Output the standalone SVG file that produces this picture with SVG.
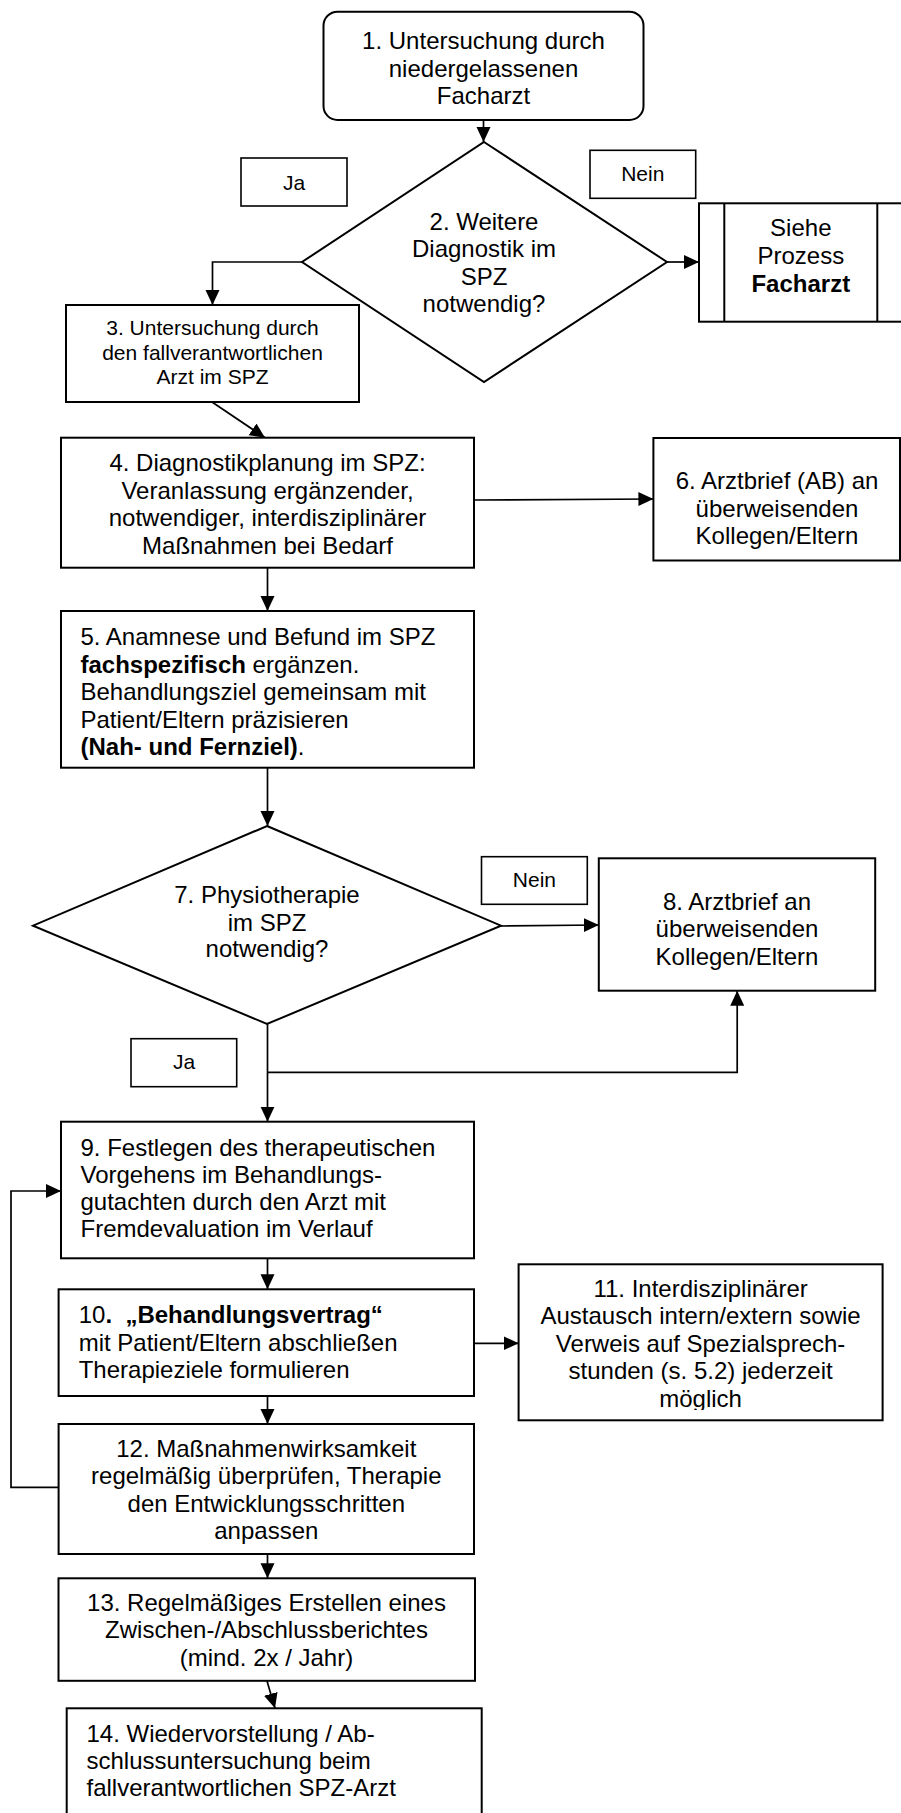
<svg xmlns="http://www.w3.org/2000/svg" width="901" height="1813" viewBox="0 0 901 1813">
<style>
  .box { fill: #ffffff; stroke: #000000; stroke-width: 2; }
  .lbl { fill: #ffffff; stroke: #000000; stroke-width: 1.6; }
  .con { fill: none; stroke: #000000; stroke-width: 1.7; }
  text { font-family: "Liberation Sans", Arial, sans-serif; font-size: 24px; fill: #000000; }
  .c { text-anchor: middle; }
  .s { font-size: 21px; }
  .b { font-weight: bold; }
</style>
<defs>
  <marker id="arr" markerUnits="userSpaceOnUse" markerWidth="16" markerHeight="15" refX="15" refY="7" orient="auto">
    <path d="M0,0 L15,7 L0,14 z" fill="#000000"/>
  </marker>
  <clipPath id="clip11">
    <rect x="519" y="1265" width="363" height="145"/>
  </clipPath>
</defs>
<rect x="0" y="0" width="901" height="1813" fill="#ffffff"/>

<g id="connectors">
  <line class="con" x1="483.5" y1="120" x2="483.5" y2="142" marker-end="url(#arr)"/>
  <path class="con" d="M302,262 H212.5 V305" marker-end="url(#arr)"/>
  <line class="con" x1="667" y1="262" x2="699" y2="262" marker-end="url(#arr)"/>
  <line class="con" x1="212" y1="402" x2="265" y2="437.7" marker-end="url(#arr)"/>
  <line class="con" x1="474" y1="500" x2="653.4" y2="499" marker-end="url(#arr)"/>
  <line class="con" x1="267.5" y1="568" x2="267.5" y2="611" marker-end="url(#arr)"/>
  <line class="con" x1="267.5" y1="768" x2="267.5" y2="826" marker-end="url(#arr)"/>
  <line class="con" x1="501" y1="926" x2="598.8" y2="925" marker-end="url(#arr)"/>
  <line class="con" x1="267.5" y1="1024" x2="267.5" y2="1121.7" marker-end="url(#arr)"/>
  <path class="con" d="M267.5,1072.3 H737.2 V990.7" marker-end="url(#arr)"/>
  <line class="con" x1="267.5" y1="1258.3" x2="267.5" y2="1289.3" marker-end="url(#arr)"/>
  <line class="con" x1="474" y1="1343.3" x2="518.6" y2="1343.3" marker-end="url(#arr)"/>
  <line class="con" x1="267.5" y1="1396" x2="267.5" y2="1424" marker-end="url(#arr)"/>
  <path class="con" d="M58.6,1487.3 H11 V1191 H61" marker-end="url(#arr)"/>
  <line class="con" x1="267.5" y1="1554" x2="267.5" y2="1578.3" marker-end="url(#arr)"/>
  <line class="con" x1="267" y1="1681" x2="275" y2="1708.3" marker-end="url(#arr)"/>
</g>

<g id="node1">
  <rect class="box" x="323.5" y="11.7" width="320" height="108.3" rx="14" ry="14"/>
  <text class="c" x="483.5" y="49">1. Untersuchung durch</text>
  <text class="c" x="483.5" y="76.5">niedergelassenen</text>
  <text class="c" x="483.5" y="104">Facharzt</text>
</g>

<g id="node2">
  <polygon class="box" points="484,142 667,262 484,382 302,262"/>
  <text class="c" x="484" y="230">2. Weitere</text>
  <text class="c" x="484" y="257">Diagnostik im</text>
  <text class="c" x="484" y="285">SPZ</text>
  <text class="c" x="484" y="312">notwendig?</text>
</g>

<g id="label-ja1">
  <rect class="lbl" x="241" y="158" width="106" height="48"/>
  <text class="c s" x="294" y="189.5">Ja</text>
</g>

<g id="label-nein1">
  <rect class="lbl" x="590" y="150.3" width="105.7" height="48"/>
  <text class="c s" x="642.8" y="181">Nein</text>
</g>

<g id="node-siehe">
  <rect class="box" x="699" y="203.3" width="204" height="118.4"/>
  <line class="box" x1="724.3" y1="203.3" x2="724.3" y2="321.7"/>
  <line class="box" x1="877.3" y1="203.3" x2="877.3" y2="321.7"/>
  <text class="c" x="800.8" y="235.5">Siehe</text>
  <text class="c" x="800.8" y="263.5">Prozess</text>
  <text class="c b" x="800.8" y="291.5">Facharzt</text>
</g>

<g id="node3">
  <rect class="box" x="66" y="305" width="293" height="97"/>
  <text class="c s" x="212.5" y="335">3. Untersuchung durch</text>
  <text class="c s" x="212.5" y="359.5">den fallverantwortlichen</text>
  <text class="c s" x="212.5" y="383.5">Arzt im SPZ</text>
</g>

<g id="node4">
  <rect class="box" x="61" y="437.7" width="413" height="130"/>
  <text class="c" x="267.5" y="471">4. Diagnostikplanung im SPZ:</text>
  <text class="c" x="267.5" y="498.5">Veranlassung ergänzender,</text>
  <text class="c" x="267.5" y="526">notwendiger, interdisziplinärer</text>
  <text class="c" x="267.5" y="553.5">Maßnahmen bei Bedarf</text>
</g>

<g id="node6">
  <rect class="box" x="653.4" y="438" width="246.6" height="122.5"/>
  <text class="c" x="777" y="489.3">6. Arztbrief (AB) an</text>
  <text class="c" x="777" y="516.7">überweisenden</text>
  <text class="c" x="777" y="544">Kollegen/Eltern</text>
</g>

<g id="node5">
  <rect class="box" x="61" y="611" width="413" height="156.7"/>
  <text x="80.5" y="645">5. Anamnese und Befund im SPZ</text>
  <text x="80.5" y="672.7"><tspan class="b">fachspezifisch</tspan> ergänzen.</text>
  <text x="80.5" y="700">Behandlungsziel gemeinsam mit</text>
  <text x="80.5" y="727.7">Patient/Eltern präzisieren</text>
  <text x="80.5" y="755"><tspan class="b">(Nah- und Fernziel)</tspan>.</text>
</g>

<g id="node7">
  <polygon class="box" points="267,826 501,925.7 267,1024 33,925.7"/>
  <text class="c" x="267" y="903.3">7. Physiotherapie</text>
  <text class="c" x="267" y="930.7">im SPZ</text>
  <text class="c" x="267" y="957">notwendig?</text>
</g>

<g id="label-nein2">
  <rect class="lbl" x="481.5" y="856.7" width="105.8" height="47.6"/>
  <text class="c s" x="534.4" y="887.3">Nein</text>
</g>

<g id="node8">
  <rect class="box" x="598.8" y="858.3" width="276.4" height="132.4"/>
  <text class="c" x="737" y="910">8. Arztbrief an</text>
  <text class="c" x="737" y="937.3">überweisenden</text>
  <text class="c" x="737" y="965">Kollegen/Eltern</text>
</g>

<g id="label-ja2">
  <rect class="lbl" x="131" y="1038.7" width="105.7" height="48"/>
  <text class="c s" x="184" y="1069.3">Ja</text>
</g>

<g id="node9">
  <rect class="box" x="61" y="1121.7" width="413" height="136.6"/>
  <text x="80.5" y="1156">9. Festlegen des therapeutischen</text>
  <text x="80.5" y="1182.8">Vorgehens im Behandlungs-</text>
  <text x="80.5" y="1209.7">gutachten durch den Arzt mit</text>
  <text x="80.5" y="1236.7">Fremdevaluation im Verlauf</text>
</g>

<g id="node10">
  <rect class="box" x="58.6" y="1289.3" width="415.4" height="106.7"/>
  <text x="78.7" y="1322.5">10<tspan class="b">. <tspan dx="6.7">„Behandlungsvertrag“</tspan></tspan></text>
  <text x="78.7" y="1350.5">mit Patient/Eltern abschließen</text>
  <text x="78.7" y="1377.5">Therapieziele formulieren</text>
</g>

<g id="node11">
  <rect class="box" x="518.6" y="1264.3" width="364" height="156"/>
  <g clip-path="url(#clip11)">
    <text class="c" x="700.6" y="1296.7">11. Interdisziplinärer</text>
    <text class="c" x="700.6" y="1324">Austausch intern/extern sowie</text>
    <text class="c" x="700.6" y="1351.7">Verweis auf Spezialsprech-</text>
    <text class="c" x="700.6" y="1379.3">stunden (s. 5.2) jederzeit</text>
    <text class="c" x="700.6" y="1407">möglich</text>
  </g>
</g>

<g id="node12">
  <rect class="box" x="58.6" y="1424" width="415.4" height="130"/>
  <text class="c" x="266.3" y="1456.7">12. Maßnahmenwirksamkeit</text>
  <text class="c" x="266.3" y="1484">regelmäßig überprüfen, Therapie</text>
  <text class="c" x="266.3" y="1511.7">den Entwicklungsschritten</text>
  <text class="c" x="266.3" y="1539">anpassen</text>
</g>

<g id="node13">
  <rect class="box" x="58.5" y="1578.3" width="416.5" height="102.5"/>
  <text class="c" x="266.5" y="1610.5">13. Regelmäßiges Erstellen eines</text>
  <text class="c" x="266.5" y="1638">Zwischen-/Abschlussberichtes</text>
  <text class="c" x="266.5" y="1665.5">(mind. 2x / Jahr)</text>
</g>

<g id="node14">
  <rect class="box" x="66.7" y="1708.3" width="415" height="112"/>
  <text x="86.5" y="1742">14. Wiedervorstellung / Ab-</text>
  <text x="86.5" y="1769">schlussuntersuchung beim</text>
  <text x="86.5" y="1796">fallverantwortlichen SPZ-Arzt</text>
</g>
</svg>
